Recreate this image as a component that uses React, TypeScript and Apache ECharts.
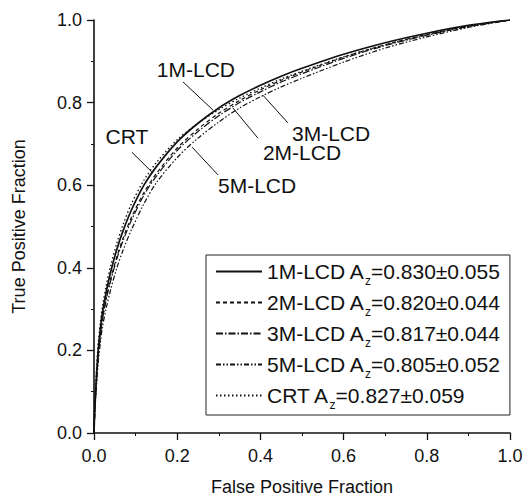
import React, { useEffect, useRef } from "react";
import * as echarts from "echarts";

const FONT = "'Liberation Sans', Arial, sans-serif";

const seriesNames = ["1M-LCD", "2M-LCD", "3M-LCD", "5M-LCD", "CRT"];
const azValues = ["0.830", "0.820", "0.817", "0.805", "0.827"];
const azErrors = ["0.055", "0.044", "0.044", "0.052", "0.059"];

// shared false-positive-fraction sample positions
const fpf = [0, 0.002, 0.005, 0.01, 0.015, 0.02, 0.03, 0.04, 0.055, 0.07, 0.09, 0.12, 0.15, 0.2, 0.25, 0.3, 0.35, 0.4, 0.45, 0.5, 0.6, 0.7, 0.8, 0.9, 1.0];

const tpf1M = [0, 0.06, 0.12, 0.2, 0.25, 0.29, 0.345, 0.39, 0.445, 0.49, 0.54, 0.6, 0.645, 0.705, 0.75, 0.787, 0.817, 0.842, 0.864, 0.883, 0.917, 0.945, 0.968, 0.987, 1.0];
const tpf2M = [0, 0.055, 0.11, 0.185, 0.235, 0.275, 0.33, 0.373, 0.427, 0.472, 0.522, 0.582, 0.628, 0.69, 0.736, 0.774, 0.805, 0.831, 0.854, 0.874, 0.91, 0.94, 0.965, 0.985, 1.0];
const tpf3M = [0, 0.055, 0.108, 0.182, 0.232, 0.272, 0.326, 0.368, 0.422, 0.466, 0.515, 0.576, 0.622, 0.684, 0.73, 0.768, 0.8, 0.826, 0.85, 0.87, 0.907, 0.938, 0.963, 0.984, 1.0];
const tpf5M = [0, 0.05, 0.1, 0.17, 0.215, 0.255, 0.305, 0.347, 0.4, 0.443, 0.492, 0.555, 0.606, 0.667, 0.714, 0.753, 0.787, 0.814, 0.838, 0.859, 0.898, 0.932, 0.959, 0.982, 1.0];
const tpfCRT = [0, 0.07, 0.135, 0.215, 0.265, 0.305, 0.36, 0.405, 0.46, 0.505, 0.555, 0.612, 0.655, 0.71, 0.75, 0.783, 0.811, 0.835, 0.857, 0.876, 0.911, 0.94, 0.964, 0.985, 1.0];

// annotation: label position and arrow [from, to] in data coordinates
const labelPos = [
  [0.245, 0.879],
  [0.5, 0.678],
  [0.57, 0.726],
  [0.392, 0.6],
  [0.079, 0.717],
];
const arrowFrom = [
  [0.214, 0.85],
  [0.394, 0.714],
  [0.466, 0.751],
  [0.298, 0.625],
  [0.091, 0.68],
];
const arrowTo = [
  [0.286, 0.782],
  [0.334, 0.787],
  [0.406, 0.818],
  [0.236, 0.692],
  [0.139, 0.632],
];

const allTpf = [tpf1M, tpf2M, tpf3M, tpf5M, tpfCRT];
const dashes: any[] = ["solid", [4, 3], [7, 2, 1.5, 2], [5, 2, 1.5, 2, 1.5, 2], [1.5, 2.5]];
const widths = [1.7, 1.2, 1.2, 1.2, 1.3];

export default function App() {
  const ref = useRef<HTMLDivElement>(null);
  useEffect(() => {
    if (!ref.current) return;
    const chart = echarts.init(ref.current, null, { renderer: "svg" });
    const axisCommon = {
      type: "value",
      min: 0,
      max: 1,
      interval: 0.2,
      axisLine: { show: true, lineStyle: { color: "#111", width: 1.6 } },
      axisTick: { show: true, inside: false, length: 7, lineStyle: { color: "#111", width: 1.3 } },
      minorTick: { show: true, splitNumber: 2, length: 3, lineStyle: { color: "#111", width: 1 } },
      splitLine: { show: false },
      axisLabel: {
        color: "#111",
        fontFamily: FONT,
        fontSize: 18,
        formatter: (v: number) => v.toFixed(1),
      },
      nameTextStyle: { color: "#111", fontFamily: FONT, fontSize: 18 },
      nameLocation: "middle",
    };
    const series = seriesNames.map((name, i) => ({
      name,
      type: "line",
      symbol: "none",
      smooth: 0.3,
      data: fpf.map((x, k) => [x, allTpf[i][k]]),
      lineStyle: { color: "#111", width: widths[i], type: dashes[i] },
      itemStyle: { color: "#111" },
      markLine: {
        silent: true,
        symbol: ["none", "arrow"],
        symbolSize: [0, 8],
        label: { show: false },
        lineStyle: { color: "#111", width: 1, type: "solid" },
        data: [[{ coord: arrowFrom[i] }, { coord: arrowTo[i] }]],
      },
      markPoint: {
        silent: true,
        symbol: "circle",
        symbolSize: 0,
        label: {
          show: true,
          position: "inside",
          formatter: name,
          color: "#111",
          fontFamily: FONT,
          fontSize: 21,
        },
        data: [{ coord: labelPos[i] }],
      },
    }));
    chart.setOption({
      animation: false,
      backgroundColor: "#fff",
      grid: { left: 94, right: 16, top: 20, bottom: 69 },
      xAxis: {
        ...axisCommon,
        name: "False Positive Fraction",
        nameGap: 45,
        axisLabel: { ...axisCommon.axisLabel, margin: 14 },
      },
      yAxis: {
        ...axisCommon,
        name: "True Positive Fraction",
        nameGap: 66,
        axisLabel: { ...axisCommon.axisLabel, margin: 12 },
      },
      legend: {
        orient: "vertical",
        left: 206,
        top: 255,
        itemWidth: 46,
        itemHeight: 14,
        itemGap: 0,
        padding: [1, 10, 4, 9],
        borderColor: "#222",
        borderWidth: 1,
        selectedMode: false,
        itemStyle: { opacity: 0 },
        data: seriesNames,
        formatter: (name: string) => {
          const i = seriesNames.indexOf(name);
          return `${name} A{z|z}=${azValues[i]}\u00b1${azErrors[i]}`;
        },
        textStyle: {
          color: "#111",
          fontFamily: FONT,
          fontSize: 21,
          lineHeight: 31,
          rich: {
            z: { fontSize: 12, lineHeight: 8, verticalAlign: "bottom", fontFamily: FONT, color: "#111" },
          },
        },
      },
      series,
    });
    return () => chart.dispose();
  }, []);
  return (
    <div
      ref={ref}
      style={{ position: "fixed", left: 0, top: 0, width: 526, height: 502, background: "#fff" }}
    />
  );
}
